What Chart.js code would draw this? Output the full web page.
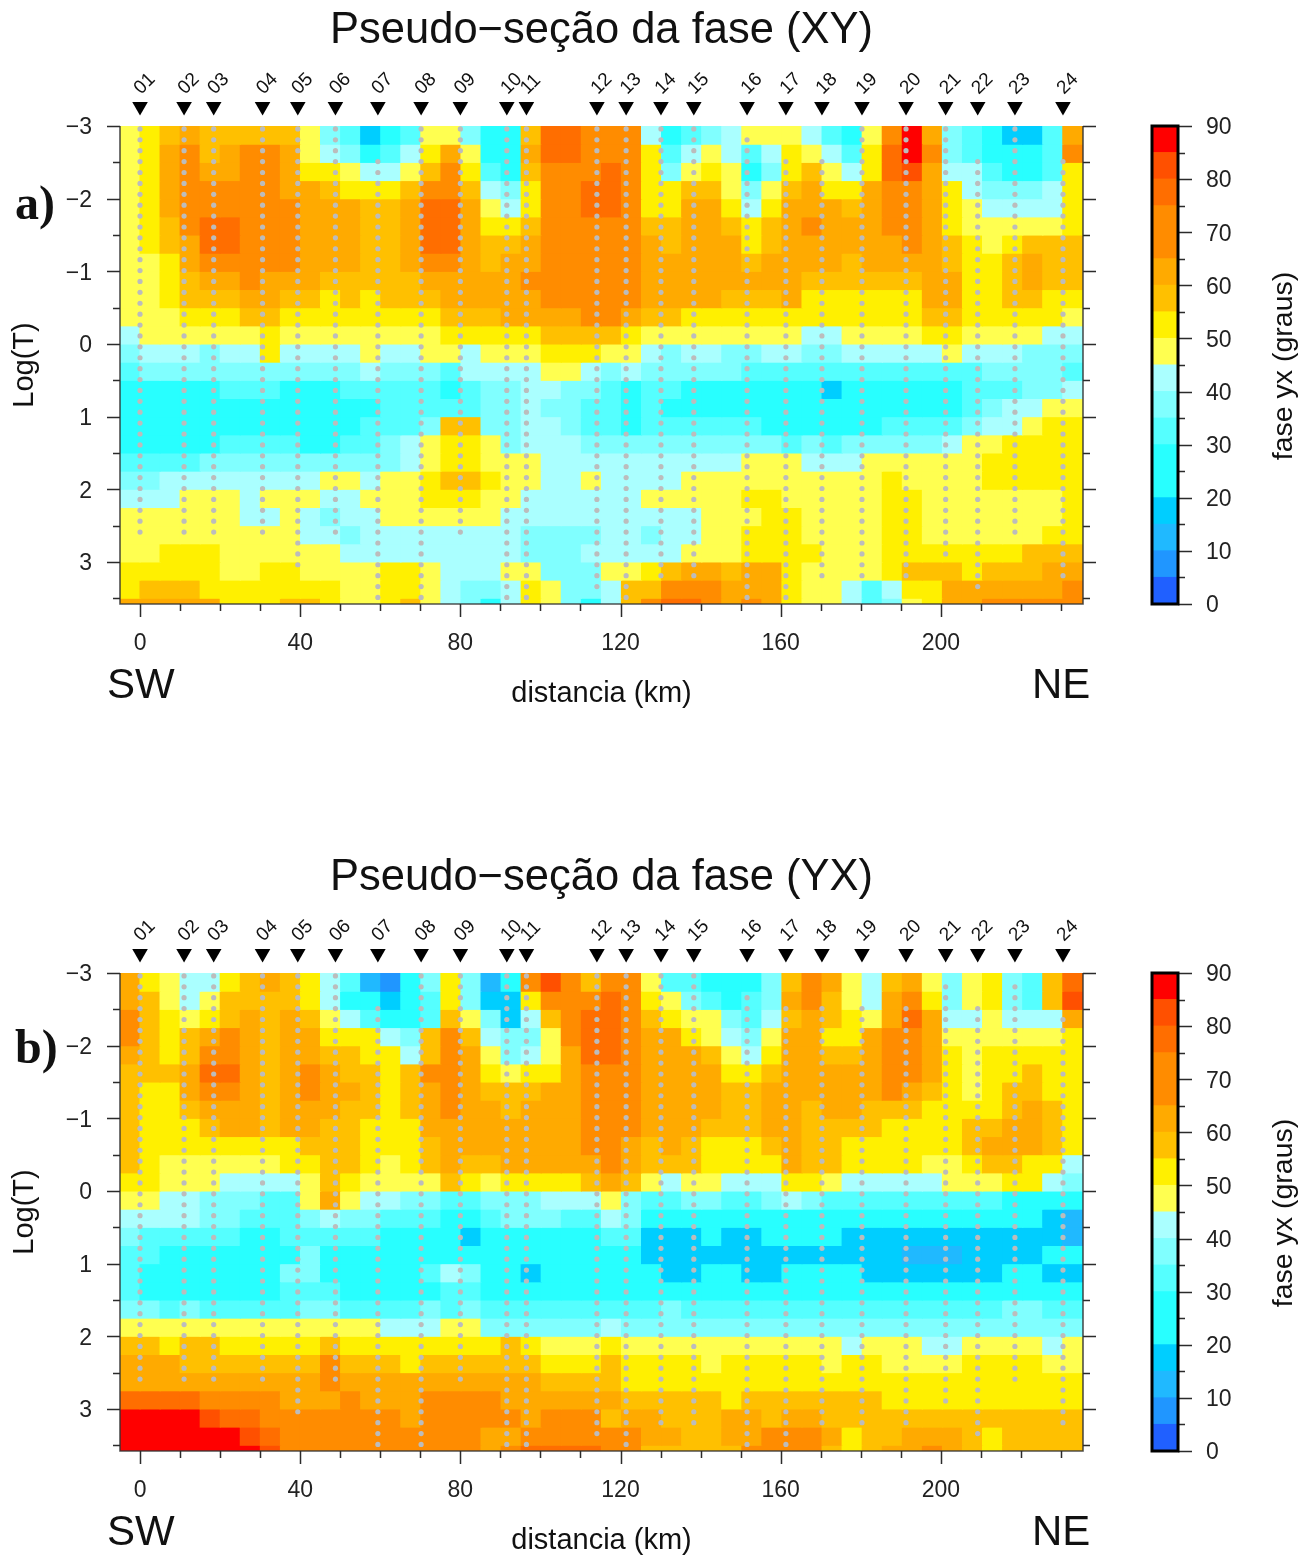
<!DOCTYPE html>
<html><head><meta charset="utf-8"><title>Pseudo-seção da fase</title>
<script src="https://cdn.jsdelivr.net/npm/chart.js@4"></script>
<style>
html,body{margin:0;padding:0;background:#fff;overflow:hidden}
#page{position:relative;width:1316px;height:1558px}
canvas{position:absolute;display:block}
</style></head><body><div id="page">
<canvas id="heatA" width="1130" height="711" style="left:0;top:0"></canvas>
<canvas id="barA" width="186" height="711" style="left:1130px;top:0"></canvas>
<canvas id="heatB" width="1130" height="711" style="left:0;top:847px"></canvas>
<canvas id="barB" width="186" height="711" style="left:1130px;top:847px"></canvas>
</div>
<script>
const stationNames=["01","02","03","04","05","06","07","08","09","10","11","12","13","14","15","16","17","18","19","20","21","22","23","24"];
const stationKm=[0,11,18.4,30.6,39.4,48.8,59.4,70.2,80,91.6,96.5,114.1,121.4,130.1,138.3,151.6,161.3,170.3,180.3,191.3,201.2,209.2,218.5,230.5];
const periods=[-2.96,-2.81,-2.66,-2.51,-2.36,-2.21,-2.06,-1.91,-1.76,-1.61,-1.46,-1.31,-1.16,-1.01,-0.86,-0.71,-0.56,-0.41,-0.26,-0.11,0.04,0.19,0.34,0.49,0.64,0.79,0.94,1.09,1.24,1.39,1.54,1.69,1.84,1.99,2.14,2.29,2.44,2.59,2.74,2.89,3.04,3.19,3.34,3.49];
const firstPeriodA=[0,0,0,0,0,0,3,0,0,0,0,0,0,0,0,1,3,3,0,0,0,3,0,3];
const firstPeriodB=[0,0,0,0,0,0,3,0,0,0,0,0,0,0,0,2,3,3,3,3,1,3,1,4];
const lastPeriod=[37,37,37,37,40,37,43,43,37,43,43,42,43,41,41,43,43,41,41,41,39,42,37,41];
const levelEdges=[0,5,10,15,20,30,35,40,45,50,55,60,65,75,80,85,90];
const levelColors=["#2060ff","#2096ff","#20b9ff","#00ceff","#28ffff","#55ffff","#80ffff","#aaffff","#ffff50","#fff000","#ffc000","#ffaa00","#ff8c00","#ff6e00","#ff5000","#ff0000"];
const barTicks=[0,5,10,15,20,25,30,35,40,45,50,55,60,65,70,75,80,85,90];
const kmTicks=[0,10,20,30,40,50,60,70,80,90,100,110,120,130,140,150,160,170,180,190,200,210,220,230];
const logTicks=[-3,-2.5,-2,-1.5,-1,-0.5,0,0.5,1,1.5,2,2.5,3,3.5];
const phaseXY=[
[47,52,57,62,57,57,57,57,57,47,37,32,17,22,32,47,47,37,22,27,57,77,77,70,70,70,42,22,32,37,42,47,47,47,42,32,27,47,70,87,62,37,32,27,17,17,32,62],
[47,52,62,70,57,62,70,70,62,47,42,37,27,32,42,52,62,47,27,27,62,77,77,70,70,70,52,32,42,47,42,32,42,52,47,42,32,52,77,87,70,37,32,27,22,22,32,70],
[47,52,62,70,62,62,70,70,62,52,52,47,42,42,47,57,70,52,32,27,57,70,70,70,77,70,52,37,47,52,47,27,37,52,57,47,42,52,77,82,62,42,42,32,27,27,32,52],
[47,52,62,70,70,70,70,70,62,62,57,52,52,52,57,70,70,57,42,37,52,70,70,77,77,70,52,52,57,57,47,37,47,57,62,52,52,62,70,70,62,52,42,37,37,37,42,52],
[47,52,62,70,70,70,70,70,70,62,62,62,57,57,62,77,77,62,47,42,52,70,70,77,77,70,52,52,62,62,52,42,52,62,62,62,57,62,70,70,62,52,47,42,42,42,42,52],
[47,52,57,70,77,77,70,70,70,62,62,62,57,57,62,77,77,62,52,52,57,70,70,70,70,70,57,57,62,62,57,52,57,62,70,62,62,62,70,70,62,52,47,47,47,47,47,52],
[47,52,57,62,77,77,70,70,70,62,62,62,57,57,62,77,77,62,57,57,62,70,70,70,70,70,62,57,62,62,62,52,57,62,62,62,62,62,62,70,62,57,52,47,52,57,57,57],
[47,47,52,62,70,70,70,70,70,62,62,62,57,57,62,70,70,62,57,62,62,70,70,70,70,70,62,62,62,62,62,57,62,62,62,62,57,62,62,62,62,57,52,52,57,62,57,57],
[47,47,52,57,62,62,70,62,62,62,57,57,57,57,57,62,62,62,62,62,70,70,70,70,70,70,62,62,62,62,62,62,62,62,57,57,57,57,57,57,62,62,52,52,57,62,57,57],
[47,47,52,57,57,57,62,62,57,57,52,57,52,57,57,57,62,62,62,62,62,70,70,70,70,70,62,62,62,62,57,57,57,62,52,52,52,52,52,52,62,62,52,52,57,57,52,52],
[47,47,47,52,52,52,57,57,52,52,52,52,52,52,52,52,57,57,57,62,62,62,62,70,70,62,57,57,52,52,52,52,52,52,52,52,52,52,52,52,57,57,52,52,52,52,52,47],
[42,47,47,47,47,47,47,52,47,47,47,47,47,47,47,47,52,52,52,52,52,57,57,57,57,52,47,47,47,47,47,47,47,47,42,42,47,47,47,47,52,52,47,47,47,47,42,42],
[37,42,42,42,37,42,42,52,42,42,42,42,47,42,42,47,47,42,47,47,47,52,52,52,47,47,42,37,42,42,37,37,42,42,37,37,42,42,42,42,42,47,42,42,42,37,37,37],
[32,37,37,37,37,37,37,37,37,37,37,37,42,37,37,37,32,42,42,42,42,47,47,42,37,42,37,37,37,37,37,32,32,32,32,32,32,32,32,32,32,32,32,37,37,37,37,32],
[27,27,27,27,27,32,32,32,27,27,27,32,32,32,32,32,27,32,37,37,42,42,37,37,32,27,32,32,27,27,27,27,27,27,27,17,27,27,27,27,27,27,32,32,32,37,37,42],
[27,27,27,27,27,27,27,27,27,27,27,27,27,32,32,32,32,32,37,37,42,37,37,32,32,27,32,27,27,27,27,27,27,27,27,27,27,27,27,27,27,27,32,37,42,42,47,47],
[27,27,27,27,27,27,27,27,27,27,27,27,32,32,32,37,57,57,37,37,42,42,37,32,32,27,32,32,32,32,32,32,27,27,27,27,27,27,32,32,32,32,37,42,42,47,52,52],
[27,27,27,27,27,32,32,32,32,27,27,32,32,37,42,47,52,52,47,37,42,42,42,37,37,37,37,37,37,37,37,37,37,32,37,32,37,37,37,37,37,42,47,47,52,52,52,52],
[32,32,32,32,37,37,37,37,37,37,37,37,37,37,42,47,52,52,47,47,47,42,42,42,42,42,42,42,42,42,42,47,47,47,42,42,42,47,47,47,47,47,47,52,52,52,52,52],
[37,37,42,42,42,42,42,42,42,42,47,47,42,47,47,52,57,57,52,47,47,42,42,47,42,42,42,42,47,47,47,47,47,47,47,47,47,47,52,47,47,47,47,52,52,52,52,52],
[42,42,42,47,47,47,42,47,47,47,42,42,47,47,47,52,52,52,47,47,42,42,42,42,42,42,47,47,47,47,47,52,52,47,47,47,47,47,52,52,47,47,47,47,47,47,47,52],
[47,47,47,47,47,47,42,42,47,42,37,42,42,47,47,47,47,47,47,42,42,42,42,42,42,42,42,42,42,47,47,47,52,52,47,47,47,47,52,52,47,47,47,47,47,47,47,52],
[47,47,47,47,47,47,47,47,47,42,42,37,42,42,42,42,42,42,42,42,37,37,37,37,42,42,37,42,42,47,47,52,52,52,47,47,47,47,52,52,47,47,47,47,47,47,52,52],
[47,47,52,52,52,47,47,47,47,47,47,42,42,42,42,42,42,42,42,42,37,37,37,42,42,42,42,42,47,47,47,52,52,52,52,47,47,47,52,52,52,52,52,52,52,57,57,57],
[52,52,52,52,52,47,47,52,52,47,47,47,47,52,52,47,42,42,42,47,47,37,37,37,47,47,52,57,62,62,57,62,62,52,47,47,47,47,52,57,57,57,52,57,57,57,62,62],
[52,57,57,57,52,52,52,52,52,52,52,47,47,52,52,47,42,37,37,42,52,47,37,37,42,57,57,70,70,70,62,62,62,52,47,47,42,32,42,52,52,62,62,62,62,62,62,70],
[62,62,62,62,62,52,52,52,57,57,52,47,47,52,57,47,42,37,27,42,52,47,37,27,42,57,70,77,77,70,62,70,62,52,47,47,42,32,37,47,52,62,62,70,70,70,70,70]
];
const phaseYX=[
[62,52,47,42,42,52,57,62,57,52,42,32,12,7,22,37,52,37,12,27,70,82,70,57,70,70,47,32,32,27,27,27,37,57,70,62,47,42,57,62,47,37,47,52,37,32,57,77],
[62,57,47,42,47,57,57,57,57,52,42,27,22,17,22,32,52,37,17,17,52,70,70,70,77,70,52,47,37,32,27,32,37,62,70,57,47,42,62,70,52,37,47,52,37,32,57,82],
[70,57,52,47,52,57,62,57,62,57,47,42,32,27,27,32,57,47,37,17,42,57,70,77,77,70,57,52,47,47,37,32,42,57,62,57,52,47,62,77,62,42,42,47,42,42,42,62],
[70,57,52,57,62,70,62,57,62,62,52,52,52,42,37,57,70,57,42,37,37,47,70,77,77,70,62,62,52,47,42,37,47,62,62,52,52,62,70,70,62,47,47,47,47,47,47,52],
[62,57,52,57,70,70,62,57,62,62,57,57,52,52,42,57,70,62,47,37,42,47,62,77,77,70,62,62,62,57,47,42,52,62,62,57,57,62,70,70,62,52,47,52,52,52,52,52],
[57,57,57,62,77,77,62,57,62,70,62,57,57,52,57,70,70,62,52,47,52,52,62,70,70,70,62,62,62,62,52,52,57,62,62,62,62,62,70,70,62,52,47,52,52,57,52,52],
[57,52,52,62,70,70,62,57,62,70,62,62,57,52,57,62,70,62,57,57,57,62,62,70,70,70,62,62,62,62,57,57,62,62,62,62,62,62,70,62,57,52,47,52,57,57,52,52],
[57,52,52,57,62,62,62,57,62,62,62,57,57,52,57,62,70,62,62,57,62,62,62,70,70,70,62,62,62,62,57,57,62,62,57,62,62,57,57,57,52,52,52,52,57,62,57,52],
[57,52,52,52,57,62,62,57,62,62,57,57,52,52,52,62,62,62,62,62,62,62,62,70,70,70,62,62,62,57,57,57,62,62,57,57,57,57,52,52,52,52,57,57,62,62,57,52],
[57,52,52,52,52,52,52,52,52,57,57,57,52,52,52,57,62,62,62,62,62,62,62,70,70,62,57,62,57,52,52,52,57,62,57,57,52,52,52,52,52,52,57,62,62,62,57,52],
[57,52,47,47,47,47,47,47,52,52,57,57,52,47,52,57,62,57,57,62,62,62,62,62,70,62,57,57,57,52,52,52,52,62,57,57,52,52,52,52,47,47,52,57,57,52,52,42],
[52,52,47,47,47,42,42,42,42,47,57,52,47,47,47,47,57,52,47,52,52,52,52,57,62,57,47,42,47,47,42,42,42,52,52,47,42,42,42,42,42,47,47,47,52,52,42,37],
[47,47,42,42,37,37,37,32,32,47,62,47,42,42,37,37,32,32,37,37,37,42,42,42,47,37,32,32,37,37,32,32,37,42,37,32,32,32,32,32,32,32,32,32,27,27,27,27],
[42,42,42,42,37,37,32,32,32,37,42,37,37,32,32,32,27,27,32,37,37,37,32,32,42,37,27,27,27,27,27,27,27,27,27,27,27,27,27,27,27,27,27,27,27,27,17,12],
[37,32,32,32,32,32,27,27,32,32,32,32,32,27,27,27,27,17,27,27,27,27,27,27,32,32,17,17,17,27,17,17,27,27,27,27,17,17,17,17,17,17,17,17,17,17,17,12],
[32,32,27,27,27,27,27,27,27,37,27,27,27,27,27,27,27,27,27,27,27,27,27,27,27,27,17,17,17,17,17,17,17,17,17,17,17,17,17,12,12,12,17,17,17,17,27,27],
[32,27,27,27,27,27,27,27,37,37,27,27,27,27,27,32,42,37,27,27,17,27,27,27,27,27,27,17,17,27,27,17,17,27,27,27,27,17,17,17,17,17,17,17,27,27,17,17],
[32,27,27,27,27,27,27,27,32,32,32,27,27,27,27,27,32,32,27,27,27,27,27,27,27,27,27,27,27,27,27,27,27,27,27,27,27,27,27,27,27,27,27,27,27,27,27,27],
[37,37,32,37,32,32,32,32,32,37,37,32,32,32,32,37,32,37,32,32,32,32,32,32,32,32,32,37,32,32,32,32,32,32,32,32,32,32,32,32,32,32,32,32,37,37,32,32],
[47,47,47,47,47,47,47,47,47,47,47,47,47,42,42,42,47,47,37,37,37,37,37,37,42,37,37,37,37,37,37,37,37,37,37,37,37,37,37,37,37,37,37,37,37,37,37,37],
[57,57,52,57,57,52,52,52,52,52,57,52,52,52,52,52,52,52,52,57,52,47,47,47,52,47,47,47,47,47,47,47,47,47,47,47,42,47,47,47,42,42,47,47,47,47,42,47],
[62,62,62,57,57,57,57,57,57,57,70,57,57,57,52,57,57,57,57,57,57,52,52,52,57,52,52,52,52,47,52,52,52,52,52,47,52,52,47,47,47,47,52,52,52,52,47,47],
[62,62,62,62,62,62,62,62,62,62,70,62,62,62,62,62,62,62,62,62,62,57,57,57,57,52,52,52,52,52,52,52,52,52,52,52,52,52,52,52,52,52,52,52,52,52,52,52],
[77,77,77,77,70,70,70,70,62,62,62,70,62,62,62,70,70,70,70,62,62,62,62,62,62,57,57,57,57,57,52,57,57,57,57,57,57,57,52,52,52,52,52,52,52,52,52,52],
[87,87,87,87,82,77,77,70,70,70,70,70,70,70,62,70,70,70,70,70,62,70,70,70,57,62,62,57,57,57,62,62,57,62,62,57,57,57,57,57,57,57,57,57,57,57,57,57],
[87,87,87,87,87,87,82,77,70,70,70,70,70,70,70,70,70,70,62,62,70,70,70,70,70,70,62,62,57,57,62,62,70,70,70,62,52,57,57,62,62,62,57,52,57,57,57,57],
[87,87,87,87,87,87,87,82,70,70,70,70,70,70,70,70,70,70,62,70,77,77,77,77,70,70,57,57,57,57,57,70,70,70,70,57,52,57,62,62,70,62,57,52,57,57,57,57]
];
const gridKmStart=-5, gridKmStep=5.01, gridLogStart=-3, gridLogStep=0.25, triangleLog=-3.27;
const FONT='"Liberation Sans",Arial,sans-serif', SERIF='"Liberation Serif",serif';
const minus=s=>String(s).replace('-','\u2212');
function colorOf(v){for(let i=0;i<levelColors.length;i++){if(v<levelEdges[i+1])return levelColors[i];}return levelColors[levelColors.length-1];}
function marks(ctx,list,draw){ctx.save();ctx.strokeStyle='#2b2b2b';ctx.lineWidth=1.5;ctx.beginPath();list.forEach(draw);ctx.stroke();ctx.restore();}

function heatChart(id,title,letter,letterBase,rows,firsts){
  const datasets=rows.map((row,r)=>({
    type:'bar',order:5,grouped:false,barPercentage:1,categoryPercentage:1,borderWidth:0,inflateAmount:0.6,
    backgroundColor:row.map(colorOf),
    data:row.map((v,c)=>({x:gridKmStart+gridKmStep*(c+0.5),y:[gridLogStart+gridLogStep*r,gridLogStart+gridLogStep*(r+1)]}))
  }));
  const dots=[];
  stationKm.forEach((km,s)=>{for(let i=firsts[s];i<=lastPeriod[s];i++)dots.push({x:km,y:periods[i]});});
  datasets.push({type:'scatter',order:1,data:dots,pointStyle:'circle',pointRadius:2.6,pointBackgroundColor:'#bcbcbc',pointBorderWidth:0});
  const deco={id:'deco',afterDatasetsDraw(ch){
    const {ctx,chartArea:a,scales:{x,y}}=ch;
    ctx.save();ctx.strokeStyle='rgba(50,50,50,0.85)';ctx.lineWidth=1.6;ctx.beginPath();
    ctx.moveTo(a.left,a.top);ctx.lineTo(a.left,a.bottom);ctx.lineTo(a.right,a.bottom);ctx.lineTo(a.right,a.top);ctx.stroke();ctx.restore();
    marks(ctx,logTicks,v=>{const p=Math.round(y.getPixelForValue(v))+0.5,big=Number.isInteger(v);
      ctx.moveTo(a.left,p);ctx.lineTo(a.left-(big?13:7),p);ctx.moveTo(a.right,p);ctx.lineTo(a.right+(big?13:7),p);});
    marks(ctx,kmTicks,v=>{const p=Math.round(x.getPixelForValue(v))+0.5,big=v%40===0;
      ctx.moveTo(p,a.bottom);ctx.lineTo(p,a.bottom+(big?13:7));});
    ctx.save();ctx.fillStyle='#000';
    stationKm.forEach(km=>Chart.helpers.drawPoint(ctx,{pointStyle:'triangle',rotation:180,radius:9,borderWidth:0},x.getPixelForValue(km),y.getPixelForValue(triangleLog)));
    ctx.restore();
    ctx.save();ctx.fillStyle='#111';ctx.textBaseline='alphabetic';
    stationKm.forEach((km,s)=>{ctx.save();ctx.translate(x.getPixelForValue(km)+1,95);ctx.rotate(-Math.PI/4);
      ctx.font='19px '+FONT;ctx.textAlign='left';ctx.fillText(stationNames[s],0,0);ctx.restore();});
    ctx.font='42px '+FONT;ctx.textAlign='left';ctx.fillText('SW',107,698);ctx.fillText('NE',1032,698);
    ctx.font='bold 48px '+SERIF;ctx.fillText(letter,15,letterBase);
    ctx.restore();
  }};
  return new Chart(document.getElementById(id),{
    data:{datasets},plugins:[deco],
    options:{responsive:false,animation:false,events:[],
      layout:{padding:{left:8,right:47,top:0,bottom:0}},
      plugins:{legend:{display:false},tooltip:{enabled:false},
        title:{display:true,text:title,fullSize:false,color:'#111',font:{family:FONT,size:43.5,weight:'normal',lineHeight:1.2},padding:{top:5,bottom:68.8}}},
      scales:{
        x:{type:'linear',offset:false,min:-5,max:235.5,grid:{display:false,drawTicks:false},border:{display:false},
          afterBuildTicks(s){s.ticks=kmTicks.map(value=>({value}));},
          ticks:{autoSkip:false,maxRotation:0,padding:26,color:'#222',font:{family:FONT,size:23},callback:v=>v%40===0&&v<=200?String(v):''},
          title:{display:true,text:'distancia (km)',color:'#111',font:{family:FONT,size:29,lineHeight:1.2},padding:{top:0,bottom:0}},
          afterFit(s){s.height=107;}},
        y:{type:'linear',reverse:true,min:-3,max:3.58,grid:{display:false,drawTicks:false},border:{display:false},
          afterBuildTicks(s){s.ticks=logTicks.map(value=>({value}));},
          ticks:{autoSkip:false,padding:28,labelOffset:2,color:'#222',font:{family:FONT,size:23},callback:v=>Number.isInteger(v)&&v<=3?minus(v):''},
          title:{display:true,text:'Log(T)',color:'#111',font:{family:FONT,size:29,lineHeight:1.2},padding:{top:0,bottom:0}},
          afterFit(s){s.width=112;}}
      }}
  });
}
function colorBar(id){
  const datasets=levelColors.map((c,i)=>({grouped:false,barPercentage:1,categoryPercentage:1,borderWidth:0,inflateAmount:0.5,backgroundColor:c,data:[[levelEdges[i],levelEdges[i+1]]]}));
  const deco={id:'decoBar',afterDatasetsDraw(ch){
    const {ctx,chartArea:a,scales:{y}}=ch;
    marks(ctx,barTicks,v=>{const p=Math.round(y.getPixelForValue(v))+0.5;ctx.moveTo(a.right,p);ctx.lineTo(a.right+(v%10===0?14:7),p);});
    ctx.save();ctx.strokeStyle='#000';ctx.lineWidth=3;ctx.strokeRect(a.left,a.top,a.right-a.left,a.bottom-a.top);
    ctx.translate(154,(a.top+a.bottom)/2+1);ctx.rotate(-Math.PI/2);ctx.fillStyle='#111';ctx.font='28.5px '+FONT;ctx.textAlign='center';ctx.textBaseline='middle';
    ctx.fillText('fase yx (graus)',0,0);ctx.restore();
  }};
  return new Chart(document.getElementById(id),{
    type:'bar',data:{labels:[''],datasets},plugins:[deco],
    options:{responsive:false,animation:false,events:[],
      layout:{padding:{left:22,right:0,top:126,bottom:107}},
      plugins:{legend:{display:false},tooltip:{enabled:false},title:{display:false}},
      scales:{
        x:{display:false},
        y:{position:'right',min:0,max:90,grid:{display:false,drawTicks:false},border:{display:false},
          afterBuildTicks(s){s.ticks=barTicks.map(value=>({value}));},
          ticks:{autoSkip:false,padding:28,labelOffset:2,color:'#222',font:{family:FONT,size:23},callback:v=>v%10===0?String(v):''},
          afterFit(s){s.width=138;}}
      }}
  });
}
heatChart('heatA','Pseudo\u2212seção da fase (XY)','a)',219,phaseXY,firstPeriodA);
colorBar('barA');
heatChart('heatB','Pseudo\u2212seção da fase (YX)','b)',216,phaseYX,firstPeriodB);
colorBar('barB');
</script></body></html>
